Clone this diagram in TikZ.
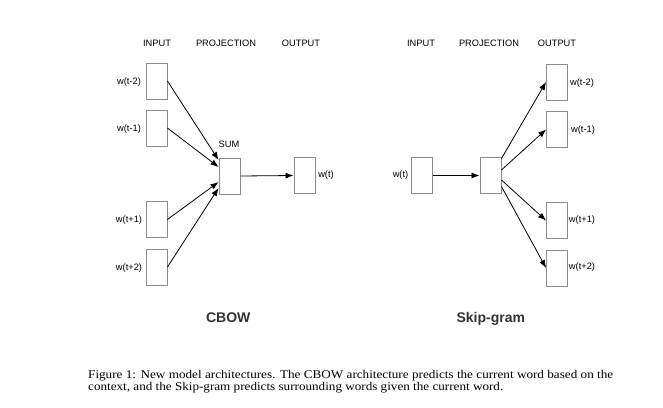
\documentclass[tikz,border=0pt]{standalone}
\usepackage{fontspec}
\setmainfont{Liberation Serif}
\setsansfont{Liberation Sans}
\usetikzlibrary{arrows.meta}

\begin{document}
\begin{tikzpicture}[x=1pt,y=-1pt,
	vec/.style={draw=black!45,line width=0.9pt,minimum width=21pt,minimum height=36pt,inner sep=0pt},
	lbl/.style={font=\sffamily\fontsize{9.3}{11}\selectfont,inner sep=0pt},
	ttl/.style={font=\sffamily\bfseries\fontsize{14}{16}\selectfont,text=black!80,inner sep=0pt,anchor=base},
	arr/.style={-{Latex[length=8pt,width=6pt]},line width=0.8pt}]
	\useasboundingbox (0,0) rectangle (663,407);

	% cbow headers
	\node[lbl] (cin)   at (157,43) {INPUT};
	\node[lbl] (cproj) at (226,43) {PROJECTION};
	\node[lbl] (cout)  at (301,43) {OUTPUT};

	% cbow boxes
	\node[vec] (c1) at (156.5,81)  {};
	\node[vec] (c2) at (156.5,128) {};
	\node[vec] (c3) at (156.5,219.5) {};
	\node[vec] (c4) at (156.5,267) {};
	\node[vec] (sum) at (229.5,176) {};
	\node[vec] (cw) at (304.5,175.5) {};

	\node[lbl] (lc1) at (129,82)  {w(t-2)};
	\node[lbl] (lc2) at (129,129) {w(t-1)};
	\node[lbl] (lc3) at (129,220) {w(t+1)};
	\node[lbl] (lc4) at (129,268) {w(t+2)};
	\node[lbl] (lsum) at (229,144) {SUM};
	\node[lbl] (lcw) at (326,175) {w(t)};

	% cbow arrows
	\draw[arr] (c1.east) -- ([yshift=16pt]sum.west);
	\draw[arr] (c2.east) -- ([yshift=9pt]sum.west);
	\draw[arr] (c3.east) -- ([yshift=-6pt]sum.west);
	\draw[arr] (c4.east) -- ([yshift=-12pt]sum.west);
	\draw[arr] (sum.east) -- (cw.west);

	% skip-gram headers
	\node[lbl] (sin)   at (421,43) {INPUT};
	\node[lbl] (sproj) at (489,43) {PROJECTION};
	\node[lbl] (sout)  at (557,43) {OUTPUT};

	% skip-gram boxes
	\node[vec] (sw) at (422,175.5) {};
	\node[vec] (proj) at (490.5,175.5) {};
	\node[vec] (s1) at (557,82) {};
	\node[vec] (s2) at (557,129.5) {};
	\node[vec] (s3) at (557,220.5) {};
	\node[vec] (s4) at (557,268) {};

	\node[lbl] (lsw) at (400.5,175) {w(t)};
	\node[lbl] (ls1) at (582,83)  {w(t-2)};
	\node[lbl] (ls2) at (583,130) {w(t-1)};
	\node[lbl] (ls3) at (582,220) {w(t+1)};
	\node[lbl] (ls4) at (582,267) {w(t+2)};

	% skip-gram arrows
	\draw[arr] (sw.east) -- (proj.west);
	\draw[arr] ([yshift=17pt]proj.east) -- (s1.west);
	\draw[arr] ([yshift=5.5pt]proj.east) -- (s2.west);
	\draw[arr] ([yshift=-4.5pt]proj.east) -- (s3.west);
	\draw[arr] ([yshift=-11pt]proj.east) -- (s4.west);

	% titles
	\node[ttl] (cbow) at (228.3,322.7) {CBOW};
	\node[ttl] (skip) at (490.8,322.7) {Skip-gram};

	% caption
	\node[anchor=base west,inner sep=0pt] (cap) at (88,378)
		{\scalebox{1.113}[1]{\begin{minipage}[t]{471.7pt}\fontsize{11.8}{12.5}\selectfont\noindent
		Figure 1: New model architectures. The CBOW architecture predicts the current word based on the
		context, and the Skip-gram predicts surrounding words given the current word.\end{minipage}}};
\end{tikzpicture}
\end{document}
